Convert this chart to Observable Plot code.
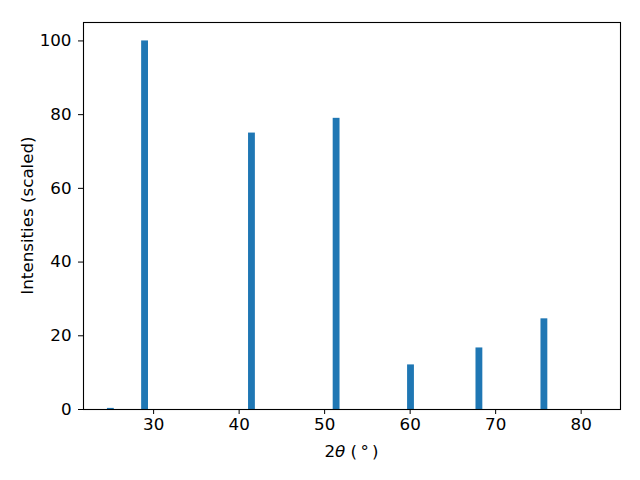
<!DOCTYPE html>
<html><head><meta charset="utf-8">
<script src="https://cdn.jsdelivr.net/npm/d3@7"></script>
<script src="https://cdn.jsdelivr.net/npm/@observablehq/plot@0.6"></script>
<style>body{margin:0;background:#fff} svg{font-family:"DejaVu Sans"}</style>
</head><body><div id="chart"></div>
<script>
// Peak positions (2θ, degrees) and scaled intensities
const twoTheta = [25.0, 29.0, 41.5, 51.4, 60.1, 68.1, 75.7];
const intensity = [0.3, 100, 75, 79, 12.1, 16.7, 24.6];
const xTicks = [30, 40, 50, 60, 70, 80];
const yTicks = [0, 20, 40, 60, 80, 100];
const barWidth = 0.8;

const data = twoTheta.map((x, i) => ({x, y: intensity[i]}));

const chart = Plot.plot({
  width: 640, height: 480,
  marginLeft: 83, marginRight: 20, marginTop: 22, marginBottom: 71,
  style: {fontFamily: "DejaVu Sans", fontSize: "16.7px", color: "black", background: "white"},
  x: {domain: [21.8, 84.6], ticks: xTicks, label: null, tickSize: 5, tickPadding: 4},
  y: {domain: [0, 105], ticks: yTicks, label: null, tickSize: 5, tickPadding: 7},
  marks: [
    Plot.rectY(data, {x1: d => d.x - barWidth / 2, x2: d => d.x + barWidth / 2, y1: 0, y2: "y", fill: "#1f77b4"}),
    Plot.frame({stroke: "black", strokeWidth: 1.1})
  ]
});
document.getElementById("chart").appendChild(chart);

const svg = d3.select(chart);
const xr = chart.scale("x").range;
const yr = chart.scale("y").range;
const xl = svg.append("text")
  .attr("x", (xr[0] + xr[1]) / 2).attr("y", 457)
  .attr("text-anchor", "middle").attr("fill", "black")
  .style("font-size", "16.7px").style("font-family", "DejaVu Sans");
xl.append("tspan").text("2");
xl.append("tspan").style("font-style", "italic").text("θ");
xl.append("tspan").text(" (\u2009°\u2009)");

svg.append("text")
  .attr("transform", `translate(33,${(yr[0] + yr[1]) / 2}) rotate(-90)`)
  .attr("text-anchor", "middle").attr("fill", "black")
  .style("font-size", "16.7px").style("font-family", "DejaVu Sans")
  .text("Intensities (scaled)");
</script>
</body></html>
